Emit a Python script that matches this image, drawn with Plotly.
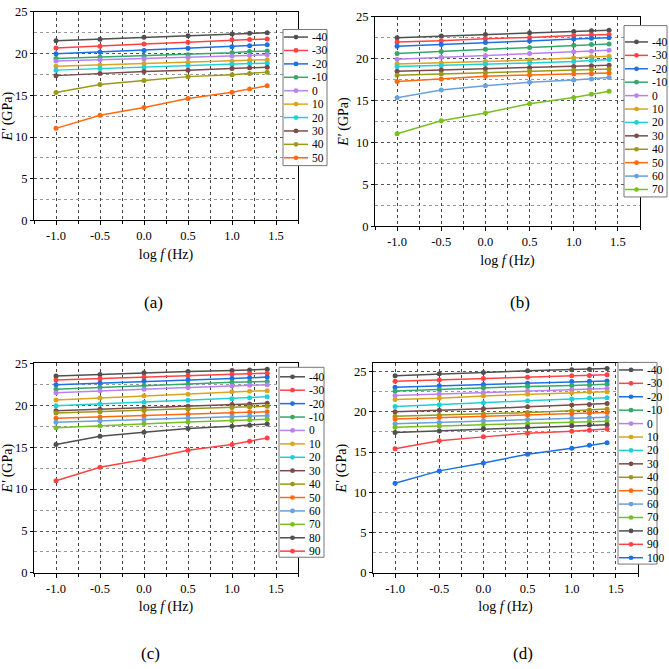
import plotly.graph_objects as go

# ---------------- data ----------------
logf = [-1.0, -0.5, 0.0, 0.5, 1.0, 1.2, 1.4]

temps_a = [-40, -30, -20, -10, 0, 10, 20, 30, 40, 50]
vals_a = [
    [21.53, 21.72, 21.96, 22.15, 22.35, 22.43, 22.50],
    [20.67, 20.87, 21.14, 21.37, 21.65, 21.68, 21.76],
    [19.97, 20.20, 20.36, 20.63, 20.83, 20.94, 21.06],
    [19.42, 19.58, 19.70, 19.85, 20.09, 20.24, 20.32],
    [19.11, 19.27, 19.38, 19.54, 19.70, 19.77, 19.85],
    [18.49, 18.64, 18.80, 18.95, 19.07, 19.19, 19.27],
    [18.02, 18.21, 18.37, 18.56, 18.72, 18.80, 18.84],
    [17.36, 17.63, 17.86, 18.02, 18.21, 18.29, 18.37],
    [15.33, 16.30, 16.77, 17.24, 17.47, 17.63, 17.78],
    [11.04, 12.60, 13.53, 14.63, 15.37, 15.76, 16.15],
]

temps_b = [-40, -30, -20, -10, 0, 10, 20, 30, 40, 50, 60, 70]
vals_b = [
    [22.50, 22.70, 22.89, 23.09, 23.24, 23.32, 23.40],
    [22.00, 22.15, 22.39, 22.54, 22.78, 22.85, 22.89],
    [21.49, 21.68, 21.92, 22.11, 22.35, 22.43, 22.50],
    [20.63, 20.87, 21.14, 21.33, 21.60, 21.68, 21.76],
    [19.93, 20.16, 20.36, 20.63, 20.83, 20.90, 21.02],
    [19.38, 19.50, 19.66, 19.85, 20.09, 20.24, 20.28],
    [19.07, 19.19, 19.34, 19.50, 19.66, 19.77, 19.89],
    [18.49, 18.64, 18.80, 18.92, 19.07, 19.15, 19.23],
    [18.02, 18.17, 18.33, 18.53, 18.64, 18.72, 18.76],
    [17.28, 17.59, 17.90, 18.06, 18.17, 18.21, 18.29],
    [15.33, 16.26, 16.77, 17.20, 17.47, 17.59, 17.75],
    [11.04, 12.60, 13.53, 14.63, 15.37, 15.76, 16.11],
]

temps_c = [-40, -30, -20, -10, 0, 10, 20, 30, 40, 50, 60, 70, 80, 90]
vals_c = [
    [23.48, 23.67, 23.87, 24.02, 24.14, 24.22, 24.30],
    [23.01, 23.17, 23.36, 23.56, 23.71, 23.79, 23.83],
    [22.46, 22.66, 22.89, 23.05, 23.21, 23.28, 23.36],
    [21.92, 22.15, 22.39, 22.54, 22.74, 22.81, 22.85],
    [21.49, 21.72, 21.92, 22.11, 22.31, 22.39, 22.46],
    [20.63, 20.87, 21.14, 21.33, 21.61, 21.68, 21.72],
    [19.93, 20.16, 20.36, 20.59, 20.79, 20.90, 21.02],
    [19.34, 19.54, 19.73, 19.89, 20.09, 20.16, 20.24],
    [19.07, 19.23, 19.38, 19.54, 19.73, 19.81, 19.89],
    [18.45, 18.60, 18.76, 18.92, 19.11, 19.19, 19.23],
    [17.98, 18.14, 18.29, 18.49, 18.64, 18.72, 18.76],
    [17.32, 17.55, 17.82, 18.02, 18.17, 18.25, 18.33],
    [15.33, 16.30, 16.77, 17.24, 17.51, 17.63, 17.78],
    [11.00, 12.60, 13.53, 14.63, 15.33, 15.72, 16.11],
]

temps_d = [-40, -30, -20, -10, 0, 10, 20, 30, 40, 50, 60, 70, 80, 90, 100]
vals_d = [
    [24.47, 24.72, 24.88, 25.08, 25.20, 25.28, 25.37],
    [23.78, 23.94, 24.11, 24.27, 24.47, 24.51, 24.59],
    [23.05, 23.21, 23.38, 23.54, 23.74, 23.78, 23.82],
    [22.56, 22.77, 22.97, 23.13, 23.25, 23.33, 23.42],
    [22.00, 22.20, 22.40, 22.56, 22.73, 22.81, 22.89],
    [21.51, 21.67, 21.96, 22.16, 22.36, 22.44, 22.48],
    [20.66, 20.86, 21.10, 21.35, 21.59, 21.71, 21.75],
    [20.00, 20.17, 20.37, 20.62, 20.82, 20.90, 21.02],
    [19.44, 19.56, 19.72, 19.89, 20.13, 20.21, 20.33],
    [19.11, 19.28, 19.44, 19.60, 19.76, 19.85, 19.89],
    [18.51, 18.67, 18.87, 19.03, 19.20, 19.28, 19.32],
    [18.06, 18.22, 18.38, 18.55, 18.71, 18.79, 18.83],
    [17.41, 17.61, 17.90, 18.10, 18.26, 18.34, 18.38],
    [15.42, 16.40, 16.88, 17.33, 17.57, 17.69, 17.86],
    [11.12, 12.66, 13.64, 14.73, 15.46, 15.83, 16.15],
]

panel_labels = ["(a)", "(b)", "(c)", "(d)"]
x_tickvals = [-1.0, -0.5, 0.0, 0.5, 1.0, 1.5]
x_ticktext = ["-1.0", "-0.5", "0.0", "0.5", "1.0", "1.5"]
y_tickvals = [0, 5, 10, 15, 20, 25]

palette = ['#505050', '#ff4343', '#1f6fe5', '#35a86a', '#b883ee', '#d8a520',
           '#22d0d4', '#7b4b4b', '#9a9a18', '#ff6a10', '#6aa0dc', '#77c020']

# ---------------- layout geometry (pixels of the 669 x 669 page) ----------------
W = 669.0
FONT = "Liberation Serif, Times New Roman, serif"

panels = [
    dict(temps=temps_a, vals=vals_a, px=(34, 298), py=(5, 218), yr=[0, 25],
         leg=dict(box=(283, 23, 327, 162), row0=30.7, lx=(284, 308), tx=310),
         lab=(153, 302)),
    dict(temps=temps_b, vals=vals_b, px=(375, 640), py=(10, 224), yr=[0, 25],
         leg=dict(box=(624, 19, 667, 194), row0=35.7, lx=(625, 648), tx=650),
         lab=(520, 302)),
    dict(temps=temps_c, vals=vals_c, px=(34, 298), py=(364, 578), yr=[0, 25],
         leg=dict(box=(279, 368, 324, 562), row0=377.7, lx=(280, 305), tx=307),
         lab=(150, 660)),
    dict(temps=temps_d, vals=vals_d, px=(373, 638), py=(364, 578), yr=[0, 26],
         leg=dict(box=(618, 363, 657, 569), row0=370.7, lx=(619, 643), tx=645),
         lab=(523, 660)),
]
ROW = 13.7


def fx(p):
    return p / W


def fy(p):
    return 1 - p / W


fig = go.Figure()
shapes = []
annotations = []

for k, pan in enumerate(panels):
    sfx = "" if k == 0 else str(k + 1)
    xa, ya = "x" + sfx, "y" + sfx
    for i, (t, v) in enumerate(zip(pan["temps"], pan["vals"])):
        c = palette[i % len(palette)]
        fig.add_trace(go.Scatter(
            x=logf, y=v, mode="lines+markers", name=str(t),
            line=dict(color=c, width=1.5), marker=dict(color=c, size=5),
            xaxis=xa, yaxis=ya, showlegend=False))

    grid_dash = "3px,3px"
    fig.layout["xaxis" + sfx] = dict(
        domain=[fx(pan["px"][0]), fx(pan["px"][1])], anchor=ya,
        range=[-1.25, 1.75], tickvals=x_tickvals, ticktext=x_ticktext,
        ticks="outside", ticklen=4, tickcolor="black",
        showline=True, linecolor="black", linewidth=1, mirror=True,
        showgrid=True, gridcolor="#444", gridwidth=1, griddash=grid_dash,
        zeroline=False,
        minor=dict(dtick=0.25, tick0=0, ticks="outside", ticklen=3, tickcolor="black",
                   showgrid=True, gridcolor="#444", gridwidth=1, griddash=grid_dash),
        tickfont=dict(family=FONT, size=12.5, color="black"),
        title=dict(text="log <i>f</i> (Hz)", font=dict(family=FONT, size=14, color="black"),
                   standoff=6),
    )
    fig.layout["yaxis" + sfx] = dict(
        domain=[fy(pan["py"][1]), fy(pan["py"][0])], anchor=xa,
        range=pan["yr"], tickvals=y_tickvals,
        ticks="outside", ticklen=3, tickcolor="black",
        showline=True, linecolor="black", linewidth=1, mirror=True,
        showgrid=True, gridcolor="#555", gridwidth=1, griddash=grid_dash,
        zeroline=False,
        minor=dict(dtick=2.5, tick0=0, ticks="", showgrid=True,
                   gridcolor="#9a9a9a", gridwidth=1, griddash=grid_dash),
        tickfont=dict(family=FONT, size=12.5, color="black"),
        title=dict(text="<i>E'</i> (GPa)", font=dict(family=FONT, size=14, color="black"),
                   standoff=4),
    )

    # ---- legend (drawn as a framed key) ----
    lg = pan["leg"]
    bx0, by0, bx1, by1 = lg["box"]
    shapes.append(dict(type="rect", xref="paper", yref="paper",
                       x0=fx(bx0), x1=fx(bx1), y0=fy(by1), y1=fy(by0),
                       fillcolor="white", line=dict(color="#777", width=1), layer="above"))
    r = 2.4
    for i, t in enumerate(pan["temps"]):
        c = palette[i % len(palette)]
        yy = lg["row0"] + i * ROW
        shapes.append(dict(type="line", xref="paper", yref="paper",
                           x0=fx(lg["lx"][0]), x1=fx(lg["lx"][1]), y0=fy(yy), y1=fy(yy),
                           line=dict(color=c, width=1.5), layer="above"))
        mx = (lg["lx"][0] + lg["lx"][1]) / 2
        shapes.append(dict(type="circle", xref="paper", yref="paper",
                           x0=fx(mx - r), x1=fx(mx + r), y0=fy(yy + r), y1=fy(yy - r),
                           fillcolor=c, line=dict(color=c, width=0), layer="above"))
        annotations.append(dict(xref="paper", yref="paper", x=fx(lg["tx"]), y=fy(yy),
                                xanchor="left", yanchor="middle", showarrow=False,
                                text=str(t), font=dict(family=FONT, size=11.5, color="black")))

    annotations.append(dict(xref="paper", yref="paper", x=fx(pan["lab"][0]), y=fy(pan["lab"][1]),
                            xanchor="center", yanchor="middle", showarrow=False,
                            text=panel_labels[k], font=dict(family=FONT, size=17, color="black")))

fig.update_layout(
    width=669, height=669, margin=dict(l=0, r=0, t=0, b=0),
    paper_bgcolor="white", plot_bgcolor="white",
    shapes=shapes, annotations=annotations, showlegend=False,
    font=dict(family=FONT, color="black"),
)

fig.write_html("out.html")
